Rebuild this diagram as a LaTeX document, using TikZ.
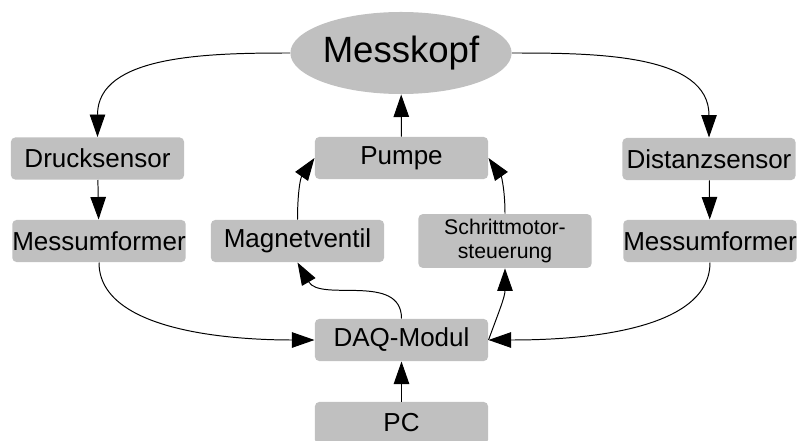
\documentclass[tikz,border=0pt]{standalone}
\usepackage{fontspec}
\setmainfont{Liberation Sans}
\usetikzlibrary{arrows.meta,shapes.geometric}
\definecolor{boxgray}{RGB}{192,192,192}

\begin{document}
\begin{tikzpicture}[x=0.025cm, y=0.025cm,
    graybox/.style={fill=boxgray, rounded corners=3pt, minimum width=4.325cm,
      minimum height=1.05cm, inner xsep=0pt, font=\fontsize{18.5}{22}\selectfont},
    kopf/.style={ellipse, fill=boxgray, minimum width=4.7cm, minimum height=2.05cm,
      inner sep=0pt, font=\fontsize{26}{30}\selectfont},
    >={Triangle[length=16pt,width=11pt]}, line width=0.7pt]
\useasboundingbox (0,0) rectangle (801,-440);

% nodes
\node[kopf] (mk) at (401,-53) {Messkopf};
\node[graybox] (druck) at (97.5,-158.5) {Drucksensor};
\node[graybox] (pumpe) at (401.5,-158) {Pumpe};
\node[graybox] (distanz) at (709,-159) {Distanzsensor};
\node[graybox] (mumL) at (99,-241) {Messumformer};
\node[graybox] (magnet) at (297.5,-241) {Magnetventil};
\node[graybox, font=\fontsize{15.1}{17.5}\selectfont, align=center] (schritt) at (505,-241) {Schrittmotor-\\steuerung};
\node[graybox] (mumR) at (710,-241) {Messumformer};
\node[graybox] (daq) at (401.5,-340) {DAQ-Modul};
\node[graybox] (pc) at (401.5,-423) {PC};

% sensors
\draw[->] (mk.west) to[out=180,in=90] (druck.north);
\draw[->] (mk.east) to[out=0,in=90] (distanz.north);
\draw[->] (druck) to (mumL);
\draw[->] (distanz) to (mumR);
\draw[->] (mumL.south) to[out=-90,in=180,looseness=0.8] (daq.west);
\draw[->] (mumR.south) to[out=-90,in=0,looseness=0.8] (daq.east);

% pump
\draw[->] (pumpe) to (mk);
\draw[->] (magnet.north) to[out=90,in=235] (pumpe.west);
\draw[->] (schritt.north) to[out=90,in=-55] (pumpe.east);
\draw[->] (daq.north) to[out=90,in=-60] (magnet.south);
\draw[->] (daq.east) to[out=70,in=-90] (schritt.south);
\draw[->] (pc) to (daq);
\end{tikzpicture}
\end{document}
